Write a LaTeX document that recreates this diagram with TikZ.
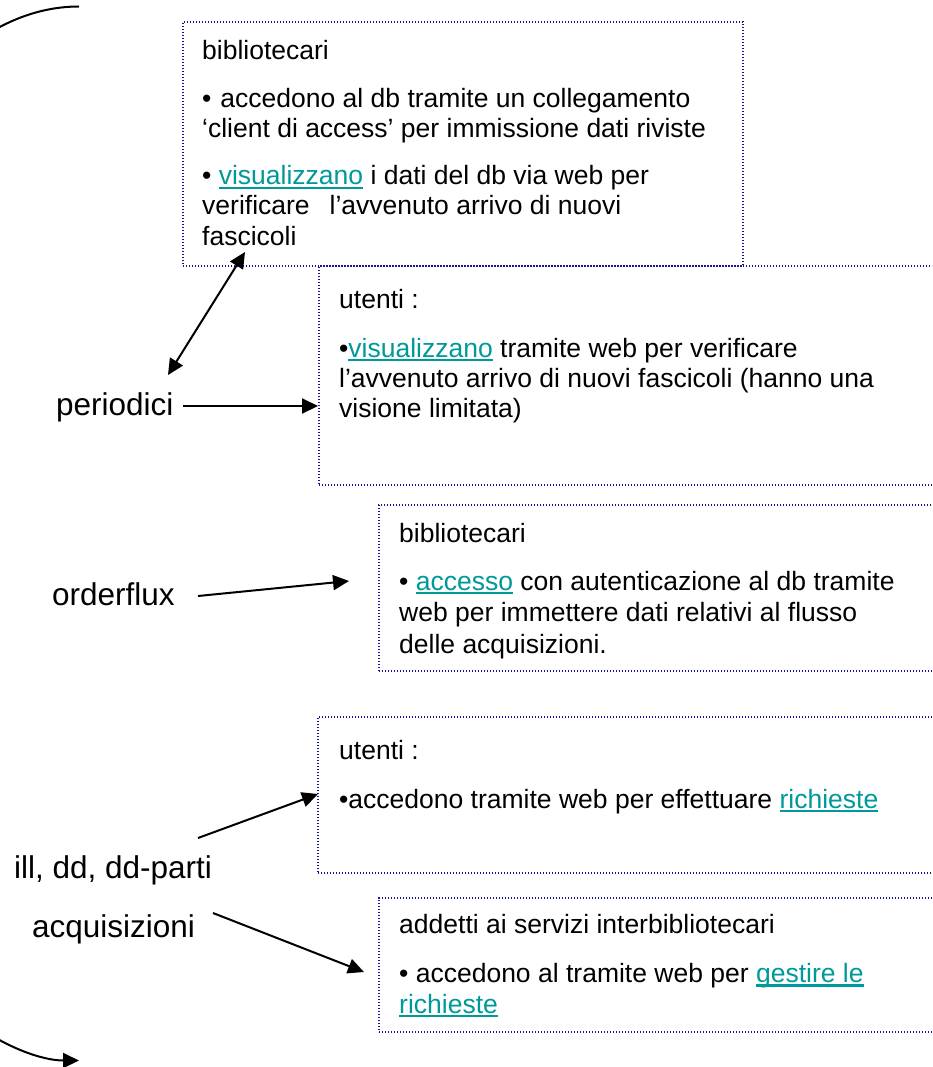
\documentclass[tikz,border=0pt]{standalone}
\usepackage{fontspec}
\setmainfont{Liberation Sans}
\usetikzlibrary{arrows.meta}
\definecolor{boxc}{RGB}{20,20,150}
\definecolor{linkc}{RGB}{0,153,153}
\newcommand\lnk[1]{{\color{linkc}\setbox0=\hbox{#1}\rlap{\rule[-4pt]{\wd0}{2.2pt}}\box0}}
\begin{document}
\begin{tikzpicture}[x=1pt,y=-1pt,
  frame/.style={draw=boxc, line width=1.4pt, dash pattern=on 1.4pt off 1.6pt, inner sep=0pt, outer sep=0pt, anchor=north west},
  txt/.style={anchor=base west, inner sep=0pt, font=\fontsize{26.5}{31}\selectfont},
  lbl/.style={anchor=base west, inner sep=0pt, font=\fontsize{31.5}{36}\selectfont},
  arr/.style={line width=2pt, -{Triangle[length=16pt,width=15pt]}},
  darr/.style={line width=2pt, {Triangle[length=16pt,width=15pt]}-{Triangle[length=16pt,width=15pt]}}]
\clip (0,0) rectangle (932,1067);
\fill[white] (0,0) rectangle (932,1067);

% boxes
\node[frame, minimum width=560pt, minimum height=244pt] (b1) at (183,22) {};
\node[frame, minimum width=640pt, minimum height=219pt] (b2) at (319,266) {};
\node[frame, minimum width=580pt, minimum height=166pt] (b3) at (379,505) {};
\node[frame, minimum width=640pt, minimum height=156pt] (b4) at (318,717) {};
\node[frame, minimum width=580pt, minimum height=134pt] (b5) at (379,898) {};

% box 1
\node[txt] (b1a) at (202,60) {bibliotecari};
\node[txt] (b1b) at (202,107.5) {•\hspace{9pt}accedono al db tramite un collegamento};
\node[txt] (b1c) at (202,138) {‘client di access’ per immissione dati riviste};
\node[txt] (b1d) at (202,185) {• \lnk{visualizzano} i dati del db via web per};
\node[txt] (b1e) at (202,215) {verificare\hspace{20pt}l’avvenuto arrivo di nuovi};
\node[txt] (b1f) at (202,245) {fascicoli};

% box 2
\node[txt] (b2a) at (339,308) {utenti :};
\node[txt] (b2b) at (339,357) {•\lnk{visualizzano} tramite web per verificare};
\node[txt] (b2c) at (339,387) {l’avvenuto arrivo di nuovi fascicoli (hanno una};
\node[txt] (b2d) at (339,417) {visione limitata)};

% box 3
\node[txt] (b3a) at (399,542) {bibliotecari};
\node[txt] (b3b) at (399,590) {• \lnk{accesso} con autenticazione al db tramite};
\node[txt] (b3c) at (399,621) {web per immettere dati relativi al flusso};
\node[txt] (b3d) at (399,653) {delle acquisizioni.};

% box 4
\node[txt] (b4a) at (339,759) {utenti :};
\node[txt] (b4b) at (339,808) {•accedono tramite web per effettuare \lnk{richieste}};

% box 5
\node[txt] (b5a) at (399,933) {addetti ai servizi interbibliotecari};
\node[txt] (b5b) at (399,982.5) {• accedono al tramite web per \lnk{gestire le}};
\node[txt] (b5c) at (399,1013) {\lnk{richieste}};

% labels
\node[lbl] (per) at (56,415) {periodici};
\node[lbl] (ord) at (52,605) {orderflux};
\node[lbl] (ill) at (14,878) {ill, dd, dd-parti};
\node[lbl] (acq) at (32,937) {acquisizioni};

% connector end points
\coordinate (p1) at (168,375);
\coordinate (p2) at (245,252);
\coordinate (p3) at (183,406);
\coordinate (p4) at (318,406);
\coordinate (o1) at (198,596);
\coordinate (o2) at (349,581);
\coordinate (i1) at (198,838);
\coordinate (i2) at (318,794);
\coordinate (a1) at (213,913);
\coordinate (a2) at (364,972);
\coordinate (c) at (79,533.5);

\draw[darr] (p1) -- (p2);
\draw[arr] (p3) -- (p4);
\draw[arr] (o1) -- (o2);
\draw[arr] (i1) -- (i2);
\draw[arr] (a1) -- (a2);

% big bracket arc
\draw[line width=2pt] (c) ++(90:287pt and 527pt) arc[start angle=90, end angle=112, x radius=287pt, y radius=527pt];
\draw[arr] (c) ++(248:287pt and 527pt) arc[start angle=248, end angle=270, x radius=287pt, y radius=527pt];
\end{tikzpicture}
\end{document}
